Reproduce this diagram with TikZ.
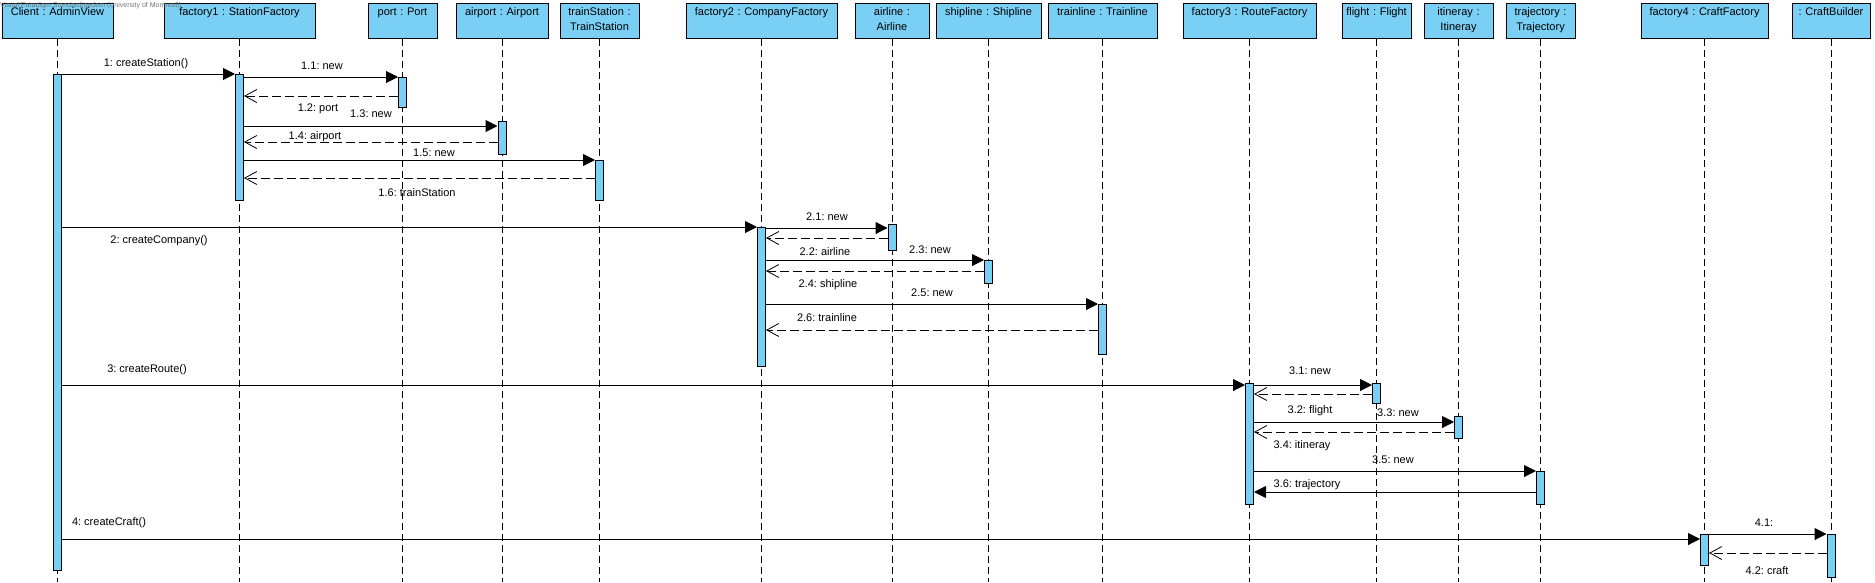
\documentclass[tikz,border=0pt]{standalone}
\usepackage{fontspec}
\setmainfont{Liberation Sans}
\usetikzlibrary{arrows.meta}
\definecolor{vpblue}{RGB}{122,207,245}
\frenchspacing
\begin{document}
\begin{tikzpicture}[
    x=1pt, y=-1pt,
    font=\fontsize{11}{15}\selectfont,
    obj/.style={draw, fill=vpblue, line width=1pt, anchor=north, inner xsep=0pt, inner ysep=2pt, align=center, text height=10pt, text depth=21pt},
    life/.style={line width=0.8pt, dash pattern=on 7pt off 4pt},
    act/.style={draw, fill=vpblue, line width=1pt, anchor=north, inner sep=0pt, minimum width=8pt},
    call/.style={line width=1pt, -{Triangle[length=12pt,width=12pt]}},
    ret/.style={line width=0.8pt, dash pattern=on 9pt off 4pt, -{Straight Barb[length=12pt,width=13pt]}},
    msg/.style={inner sep=0pt, text height=8.5pt, text depth=0.5pt}
]
\useasboundingbox (0,0) rectangle (1875,582);
\node[obj, text width=111pt] (client) at (57.5,3) {Client : AdminView};
\node[obj, text width=151pt] (fac1) at (239.5,3) {factory1 : StationFactory};
\node[obj, text width=69pt] (port) at (402.5,3) {port : Port};
\node[obj, text width=92pt] (airport) at (502,3) {airport : Airport};
\node[obj, text width=79pt] (tstation) at (599.5,3) {trainStation :\\TrainStation};
\node[obj, text width=151pt] (fac2) at (761.5,3) {factory2 : CompanyFactory};
\node[obj, text width=74pt] (airline) at (892,3) {airline :\\Airline};
\node[obj, text width=105pt] (shipline) at (988.5,3) {shipline : Shipline};
\node[obj, text width=109pt] (tline) at (1102.5,3) {trainline : Trainline};
\node[obj, text width=133pt] (fac3) at (1249.5,3) {factory3 : RouteFactory};
\node[obj, text width=69pt] (flight) at (1376.5,3) {flight : Flight};
\node[obj, text width=69pt] (itin) at (1458.5,3) {itineray :\\Itineray};
\node[obj, text width=69pt] (traj) at (1540.5,3) {trajectory :\\Trajectory};
\node[obj, text width=127pt] (fac4) at (1704.5,3) {factory4 : CraftFactory};
\node[obj, text width=78pt] (builder) at (1831,3) {: CraftBuilder};

\foreach \o in {client,fac1,port,airport,tstation,fac2,airline,shipline,tline,fac3,flight,itin,traj,fac4,builder}
    \draw[life] (\o.south) -- (\o.south |- 0,582);

\node[act, minimum height=496pt] (aclient) at (client.south |- 0,74) {};
\node[act, minimum height=126pt] (afac1) at (fac1.south |- 0,74) {};
\node[act, minimum height=30pt] (aport) at (port.south |- 0,77) {};
\node[act, minimum height=33pt] (aairport) at (airport.south |- 0,121) {};
\node[act, minimum height=40pt] (atstation) at (tstation.south |- 0,160) {};
\node[act, minimum height=139pt] (afac2) at (fac2.south |- 0,227) {};
\node[act, minimum height=26pt] (aairline) at (airline.south |- 0,224) {};
\node[act, minimum height=23pt] (aship) at (shipline.south |- 0,260) {};
\node[act, minimum height=50pt] (atline) at (tline.south |- 0,304) {};
\node[act, minimum height=121pt] (afac3) at (fac3.south |- 0,383) {};
\node[act, minimum height=20pt] (aflight) at (flight.south |- 0,383) {};
\node[act, minimum height=22pt] (aitin) at (itin.south |- 0,416) {};
\node[act, minimum height=33pt] (atraj) at (traj.south |- 0,471) {};
\node[act, minimum height=31pt] (afac4) at (fac4.south |- 0,534) {};
\node[act, minimum height=43pt] (abuilder) at (builder.south |- 0,534) {};

\draw[call] (aclient.north east) -- (afac1.north west);
\draw[call] (afac1.east |- aport.north) -- (aport.north west);
\draw[ret] (aport.west |- 0,96) -- (afac1.east |- 0,96);
\draw[call] (afac1.east |- 0,126) -- (aairport.west |- 0,126);
\draw[ret] (aairport.west |- 0,142) -- (afac1.east |- 0,142);
\draw[call] (afac1.east |- atstation.north) -- (atstation.north west);
\draw[ret] (atstation.west |- 0,178) -- (afac1.east |- 0,178);

\draw[call] (aclient.east |- afac2.north) -- (afac2.north west);
\draw[call] (afac2.east |- 0,228) -- (aairline.west |- 0,228);
\draw[ret] (aairline.west |- 0,238) -- (afac2.east |- 0,238);
\draw[call] (afac2.east |- aship.north) -- (aship.north west);
\draw[ret] (aship.west |- 0,271) -- (afac2.east |- 0,271);
\draw[call] (afac2.east |- atline.north) -- (atline.north west);
\draw[ret] (atline.west |- 0,330) -- (afac2.east |- 0,330);

\draw[call] (aclient.east |- 0,385) -- (afac3.west |- 0,385);
\draw[call] (afac3.east |- 0,385) -- (aflight.west |- 0,385);
\draw[ret] (aflight.west |- 0,394) -- (afac3.east |- 0,394);
\draw[call] (afac3.east |- 0,422) -- (aitin.west |- 0,422);
\draw[ret] (aitin.west |- 0,432) -- (afac3.east |- 0,432);
\draw[call] (afac3.east |- atraj.north) -- (atraj.north west);
\draw[call] (atraj.west |- 0,492) -- (afac3.east |- 0,492);

\draw[call] (aclient.east |- 0,539) -- (afac4.west |- 0,539);
\draw[call] (afac4.north east) -- (abuilder.north west);
\draw[ret] (abuilder.west |- 0,553) -- (afac4.east |- 0,553);

\node[msg] (m1) at (146,62) {1: createStation()};
\node[msg] (m11) at (322,65) {1.1: new};
\node[msg] (m12) at (318,107) {1.2: port};
\node[msg] (m13) at (371,113) {1.3: new};
\node[msg] (m14) at (315,135) {1.4: airport};
\node[msg] (m15) at (434,152) {1.5: new};
\node[msg] (m16) at (417,192) {1.6: trainStation};
\node[msg] (m2) at (159,239) {2: createCompany()};
\node[msg] (m21) at (827,216) {2.1: new};
\node[msg] (m22) at (825,251) {2.2: airline};
\node[msg] (m23) at (930,249) {2.3: new};
\node[msg] (m24) at (828,283) {2.4: shipline};
\node[msg] (m25) at (932,292) {2.5: new};
\node[msg] (m26) at (827,317) {2.6: trainline};
\node[msg] (m3) at (147,368) {3: createRoute()};
\node[msg] (m31) at (1310,370) {3.1: new};
\node[msg] (m32) at (1310,409) {3.2: flight};
\node[msg] (m33) at (1398,412) {3.3: new};
\node[msg] (m34) at (1302,444) {3.4: itineray};
\node[msg] (m35) at (1393,459) {3.5: new};
\node[msg] (m36) at (1307,483) {3.6: trajectory};
\node[msg, fill=white, inner xsep=10pt, inner ysep=3pt] (m4) at (109,521) {4: createCraft()};
\node[msg] (m41) at (1764,522) {4.1:};
\node[msg] (m42) at (1767,570) {4.2: craft};

\node[anchor=north west, inner sep=0pt, text=black!55, font=\fontsize{7}{8}\selectfont] (mark) at (0,2) {Visual Paradigm Standard(gedem (University of Montreal))};
\end{tikzpicture}
\end{document}
